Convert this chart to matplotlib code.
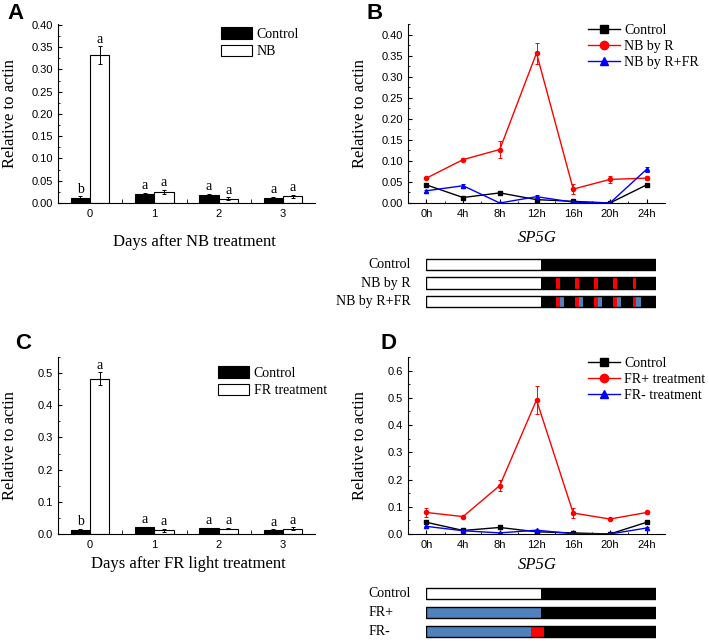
import numpy as np
import matplotlib
matplotlib.use('Agg')
import matplotlib.pyplot as plt
from matplotlib.patches import Rectangle
from matplotlib.ticker import MultipleLocator, FormatStrFormatter

plt.rcParams['font.family'] = ['Liberation Sans', 'DejaVu Sans']
plt.rcParams['axes.linewidth'] = 0.8
SERIF = 'Liberation Serif'

# ---- panel A / C: bar charts ----
days = ['0', '1', '2', '3']
a_ctrl = [0.012, 0.021, 0.018, 0.012]
a_ctrl_err = [0.003, 0.002, 0.002, 0.002]
a_nb = [0.332, 0.025, 0.010, 0.015]
a_nb_err = [0.020, 0.005, 0.003, 0.004]
a_ctrl_sig = ['b', 'a', 'a', 'a']
a_nb_sig = ['a', 'a', 'a', 'a']

c_ctrl = [0.012, 0.021, 0.018, 0.012]
c_ctrl_err = [0.003, 0.002, 0.002, 0.002]
c_fr = [0.482, 0.012, 0.017, 0.016]
c_fr_err = [0.020, 0.005, 0.002, 0.005]
c_ctrl_sig = ['b', 'a', 'a', 'a']
c_fr_sig = ['a', 'a', 'a', 'a']

# ---- panel B / D: time courses ----
hours = ['0h', '4h', '8h', '12h', '16h', '20h', '24h']
b_ctrl = [0.043, 0.013, 0.024, 0.008, 0.004, 0.000, 0.043]
b_ctrl_err = [0.002, 0.002, 0.002, 0.002, 0.002, 0.001, 0.002]
b_r = [0.059, 0.103, 0.127, 0.356, 0.033, 0.056, 0.059]
b_r_err = [0.003, 0.003, 0.020, 0.025, 0.012, 0.009, 0.004]
b_rfr = [0.029, 0.041, 0.000, 0.015, 0.002, 0.000, 0.080]
b_rfr_err = [0.003, 0.003, 0.001, 0.003, 0.001, 0.001, 0.006]

d_ctrl = [0.043, 0.013, 0.024, 0.008, 0.004, 0.000, 0.043]
d_ctrl_err = [0.002, 0.002, 0.002, 0.002, 0.002, 0.001, 0.002]
d_frp = [0.079, 0.064, 0.178, 0.492, 0.077, 0.055, 0.079]
d_frp_err = [0.018, 0.003, 0.020, 0.050, 0.018, 0.003, 0.006]
d_frm = [0.028, 0.012, 0.004, 0.014, 0.001, 0.000, 0.022]
d_frm_err = [0.003, 0.002, 0.001, 0.002, 0.001, 0.001, 0.002]

# ---- light regime schematics (hours) ----
b_rows = ['Control', 'NB by R', 'NB by R+FR']
nb_times = [13.55, 15.55, 17.55, 19.55, 21.55]
r_len = 0.4
fr_len = 0.45
d_rows = ['Control', 'FR+', 'FR-']
d_segments = [
    [(0, 12, 'light'), (12, 24, 'dark')],
    [(0, 12, 'fr'), (12, 24, 'dark')],
    [(0, 11, 'fr'), (11, 12.3, 'red'), (12.3, 24, 'dark')],
]

SEG_COLORS = {'light': 'white', 'dark': 'black', 'red': '#ff0000', 'fr': '#4f81bd'}

W, H = 709, 641
fig = plt.figure(figsize=(W / 100, H / 100), dpi=100)


def px_axes(left, top, right, bottom):
    return fig.add_axes([left / W, 1 - bottom / H, (right - left) / W, (bottom - top) / H])


def style_axes(ax, ymax, ystep, fmt):
    ax.spines['top'].set_visible(False)
    ax.spines['right'].set_visible(False)
    ax.set_ylim(0, ymax)
    ax.yaxis.set_major_locator(MultipleLocator(ystep))
    ax.yaxis.set_minor_locator(MultipleLocator(ystep / 2))
    ax.yaxis.set_major_formatter(FormatStrFormatter(fmt))
    ax.tick_params(axis='both', which='major', direction='in', length=3, width=0.8, labelsize=8)
    ax.tick_params(axis='both', which='minor', direction='in', length=1.5, width=0.6)
    ax.set_ylabel('Relative to actin', family=SERIF, fontsize=12, va='center')
    ax.yaxis.set_label_coords(-0.187, 0.5)


def bar_panel(ax, ctrl, ctrl_err, trt, trt_err, ctrl_sig, trt_sig, trt_label,
              ymax, ystep, fmt, xlabel, xlabel_pos, legend_xy):
    x = np.arange(len(days))
    w = 0.3
    ekw = dict(lw=0.7, capsize=1.5, capthick=0.7, ecolor='black')
    ax.bar(x - w / 2, ctrl, w, yerr=ctrl_err, color='black', edgecolor='black',
           lw=0.8, error_kw=ekw, label='Control')
    ax.bar(x + w / 2, trt, w, yerr=trt_err, color='white', edgecolor='black',
           lw=0.8, error_kw=ekw, label=trt_label)
    # significance letters
    for xi, v, e, s in zip(x - w / 2, ctrl, ctrl_err, ctrl_sig):
        ax.annotate(s, (xi, v + e), xytext=(0, 0.5), textcoords='offset points',
                    ha='center', va='bottom', family=SERIF, fontsize=10)
    for xi, v, e, s in zip(x + w / 2, trt, trt_err, trt_sig):
        ax.annotate(s, (xi, v + e), xytext=(0, 0.5), textcoords='offset points',
                    ha='center', va='bottom', family=SERIF, fontsize=10)
    style_axes(ax, ymax, ystep, fmt)
    ax.set_xlim(-0.5, len(days) - 0.5)
    ax.set_xticks(x)
    ax.set_xticklabels(days)
    ax.tick_params(axis='x', which='major', length=0, pad=4)
    ax.set_xticks(x[:-1] + 0.5, minor=True)
    ax.tick_params(axis='x', which='minor', length=3)
    ax.text(xlabel_pos[0], xlabel_pos[1], xlabel, transform=ax.transAxes,
            ha='center', va='center', family=SERIF, fontsize=12)
    ax.legend(loc='upper left', bbox_to_anchor=legend_xy, frameon=False,
              prop=dict(family=SERIF, size=10), borderpad=0, borderaxespad=0,
              handlelength=2.25, handleheight=0.9, handletextpad=0.3, labelspacing=0.3)


def line_panel(ax, series, ymax, ystep, fmt, xlabel_y, legend_xy):
    x = np.arange(len(hours))
    for vals, errs, color, marker, ms, label in series:
        ax.plot(x, vals, color=color, marker=marker, ms=ms, lw=1, label=label)
        ax.errorbar(x, vals, yerr=errs, fmt='none', ecolor=color, elinewidth=0.7,
                    capsize=1.5, capthick=0.7)
    style_axes(ax, ymax, ystep, fmt)
    ax.set_xlim(-0.5, len(hours) - 0.5)
    ax.set_xticks(x)
    ax.set_xticklabels(hours)
    ax.set_xticks(x[:-1] + 0.5, minor=True)
    ax.tick_params(axis='x', which='major', pad=4)
    ax.text(0.504, xlabel_y, 'SP5G', transform=ax.transAxes, ha='center', va='center',
            family=SERIF, style='italic', fontsize=12)
    ax.legend(loc='upper left', bbox_to_anchor=legend_xy, frameon=False,
              prop=dict(family=SERIF, size=10), borderpad=0, borderaxespad=0,
              handlelength=2.3, handletextpad=0.3, labelspacing=0.2, markerscale=2.0)


def schematic(ax, segments, labels, label_x, label_ha):
    bh = 0.6
    for i, segs in enumerate(segments):
        for start, end, kind in segs:
            ax.broken_barh([(start, end - start)], (i - bh / 2, bh),
                           facecolors=SEG_COLORS[kind], edgecolor='none')
        ax.add_patch(Rectangle((0, i - bh / 2), 24, bh, fill=False, lw=1.0, ec='black'))
        ax.text(label_x, i, labels[i], transform=ax.get_yaxis_transform(),
                ha=label_ha, va='center', family=SERIF, fontsize=10)
    ax.set_xlim(0, 24)
    ax.set_ylim(len(segments) - 0.5, -0.5)
    ax.axis('off')


# A
axA = px_axes(58, 24, 315, 203)
bar_panel(axA, a_ctrl, a_ctrl_err, a_nb, a_nb_err, a_ctrl_sig, a_nb_sig, 'NB',
          0.402, 0.05, '%.2f', 'Days after NB treatment', (0.53, -0.218), (0.634, 0.983))

# B
axB = px_axes(408, 24, 665, 203)
line_panel(axB, [
    (b_ctrl, b_ctrl_err, 'black', 's', 2.8, 'Control'),
    (b_r, b_r_err, '#ff0000', 'o', 3.0, 'NB by R'),
    (b_rfr, b_rfr_err, '#0000ff', '^', 3.0, 'NB by R+FR'),
], 0.425, 0.05, '%.2f', -0.196, (0.70, 1.0))

# B schematic
b_segments = [
    [(0, 12, 'light'), (12, 24, 'dark')],
    [(0, 12, 'light'), (12, 24, 'dark')] + [(t, t + r_len, 'red') for t in nb_times],
    [(0, 12, 'light'), (12, 24, 'dark')] + [(t, t + r_len, 'red') for t in nb_times]
    + [(t + r_len, t + r_len + fr_len, 'fr') for t in nb_times],
]
axBs = px_axes(426, 255, 656, 311)
schematic(axBs, b_segments, b_rows, -0.065, 'right')

# C
axC = px_axes(58, 357, 315, 534)
bar_panel(axC, c_ctrl, c_ctrl_err, c_fr, c_fr_err, c_ctrl_sig, c_fr_sig, 'FR treatment',
          0.55, 0.1, '%.1f', 'Days after FR light treatment', (0.506, -0.17), (0.623, 0.949))

# D
axD = px_axes(408, 357, 665, 534)
line_panel(axD, [
    (d_ctrl, d_ctrl_err, 'black', 's', 2.8, 'Control'),
    (d_frp, d_frp_err, '#ff0000', 'o', 3.0, 'FR+ treatment'),
    (d_frm, d_frm_err, '#0000ff', '^', 3.0, 'FR- treatment'),
], 0.65, 0.1, '%.1f', -0.175, (0.70, 1.0))

# D schematic
axDs = px_axes(426, 584, 656, 641)
schematic(axDs, d_segments, d_rows, -0.252, 'left')

# panel letters
for lbl, (x0, y0) in {'A': (7, 3), 'B': (367, 3), 'C': (15, 333), 'D': (380, 333)}.items():
    fig.text(x0 / W, 1 - y0 / H, lbl, ha='left', va='top', fontsize=16, fontweight='bold')

fig.savefig('out.png', dpi=100)
